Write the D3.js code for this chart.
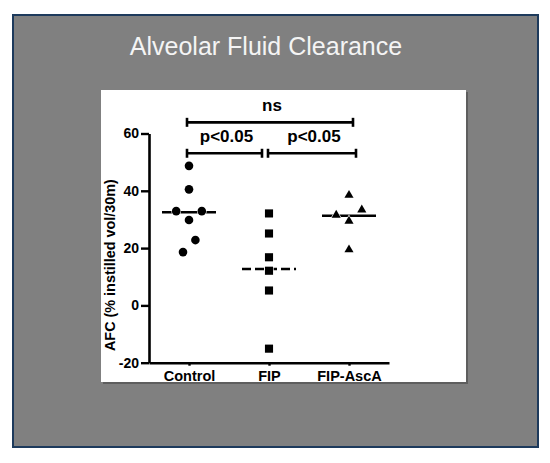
<!DOCTYPE html>
<html>
<head>
<meta charset="utf-8">
<script src="https://cdn.jsdelivr.net/npm/d3@7"></script>
<style>
  body { margin: 0; background: #fff; }
  svg { display: block; }
</style>
</head>
<body>
<div id="chart"></div>
<script>
// data
var groups = ["Control", "FIP", "FIP-AscA"];
var controlValues = [48.7, 40.5, 32.9, 32.9, 29.8, 22.8, 18.6];
var fipValues = [32.1, 25.1, 16.8, 12.1, 5.2, -15.1];
var ascaValues = [38.8, 33.7, 31.9, 29.8, 19.8];
var medians = [32.5, 12.7, 31.3];
var yTicks = [-20, 0, 20, 40, 60];
var sigBars = [
    { from: "Control", to: "FIP", y: 53.1, label: "p<0.05" },
    { from: "FIP", to: "FIP-AscA", y: 53.1, label: "p<0.05" },
    { from: "Control", to: "FIP-AscA", y: 63.9, label: "ns" }
];

var W = 550, H = 463;
var font = "'Liberation Sans', Arial, sans-serif";

var svg = d3.select("#chart")
    .append("svg")
    .attr("width", W)
    .attr("height", H);

// slide background
svg.append("rect")
    .attr("x", 13).attr("y", 15)
    .attr("width", 525).attr("height", 432)
    .attr("fill", "#808080")
    .attr("stroke", "#1d3a5c")
    .attr("stroke-width", 2);

svg.append("text")
    .attr("x", 266)
    .attr("y", 55)
    .attr("text-anchor", "middle")
    .style("font-family", font)
    .style("font-size", "25px")
    .style("fill", "#f4f4f4")
    .text("Alveolar Fluid Clearance");

// white picture panel with a little shadow
svg.append("rect")
    .attr("x", 103).attr("y", 92)
    .attr("width", 365).attr("height", 292)
    .attr("fill", "#5e5e5e");
svg.append("rect")
    .attr("x", 101).attr("y", 90)
    .attr("width", 365).attr("height", 292)
    .attr("fill", "#fff");

svg.append("clipPath").attr("id", "panel")
    .append("rect")
    .attr("x", 101).attr("y", 90)
    .attr("width", 365).attr("height", 292);

var g = svg.append("g").attr("clip-path", "url(#panel)");

var x = d3.scalePoint()
    .domain(groups)
    .range([149, 389])
    .padding(0.5);

var y = d3.scaleLinear()
    .domain([-20, 60])
    .range([362.7, 133.5]);

// axes
var yAxis = g.append("g")
    .attr("transform", "translate(" + x.range()[0] + ",0)")
    .call(d3.axisLeft(y).tickValues(yTicks).tickFormat(function (d) { return String(d); })
        .tickSize(8).tickSizeOuter(0).tickPadding(2));

var xAxis = g.append("g")
    .attr("transform", "translate(0," + y(-20) + ")")
    .call(d3.axisBottom(x).tickSize(3).tickSizeOuter(0).tickPadding(5));

[yAxis, xAxis].forEach(function (a) {
    a.select(".domain").attr("stroke", "#000").attr("stroke-width", 2.6);
    a.selectAll(".tick line").attr("stroke", "#000").attr("stroke-width", 2.4);
    a.selectAll("text")
        .style("font-family", font)
        .style("font-weight", "bold")
        .style("fill", "#000");
});
yAxis.selectAll("text").style("font-size", "14px");
xAxis.selectAll("text").style("font-size", "14.5px");

g.append("text")
    .attr("transform", "translate(115," + ((y(60) + y(-20)) / 2 + 17) + ") rotate(-90)")
    .attr("text-anchor", "middle")
    .style("font-family", font)
    .style("font-weight", "bold")
    .style("font-size", "14.4px")
    .text("AFC (% instilled vol/30m)");

// median lines
g.selectAll(".median")
    .data(medians)
    .enter()
    .append("line")
    .attr("class", "median")
    .attr("x1", function (d, i) { return x(groups[i]) - 27; })
    .attr("x2", function (d, i) { return x(groups[i]) + 27; })
    .attr("y1", function (d) { return y(d); })
    .attr("y2", function (d) { return y(d); })
    .attr("stroke", "#000")
    .attr("stroke-width", 2.6)
    .attr("stroke-dasharray", function (d, i) { return i == 1 ? "9,4" : null; });

// side-by-side nudges for points that would overlap (in symbol widths)
var nudges = [
    [0, 0, -1.6, 1.6, 0, 0.8, -0.75],
    [0, 0, 0, 0, 0, 0],
    [0, 1.6, -1.6, 0, 0]
];
var shapes = [d3.symbolCircle, d3.symbolSquare, d3.symbolTriangle];
var sizes = [58, 66, 36];
var series = [controlValues, fipValues, ascaValues];

series.forEach(function (vals, i) {
    var sym = d3.symbol().type(shapes[i]).size(sizes[i]);
    g.selectAll(".pt" + i)
        .data(vals)
        .enter()
        .append("path")
        .attr("class", "pt" + i)
        .attr("d", sym)
        .attr("transform", function (d, j) {
            var dy = i == 2 ? 1 : 0;
            return "translate(" + (x(groups[i]) + nudges[i][j] * 8) + "," + (y(d) + dy) + ")";
        })
        .attr("fill", "#000")
        .attr("stroke", "#fff")
        .attr("stroke-width", 1.2)
        .attr("paint-order", "stroke");
});

// significance brackets
var bar = g.selectAll(".sig")
    .data(sigBars)
    .enter()
    .append("g")
    .attr("class", "sig");

function barEnds(d) {
    var a = x(d.from) - 2, b = x(d.to) + 4;
    if (d.to == "FIP") b = x(d.to) - 7;
    if (d.from == "FIP") { a = x(d.from) - 1; b = x(d.to) + 7; }
    return [a, b];
}

bar.append("line")
    .attr("x1", function (d) { return barEnds(d)[0]; })
    .attr("x2", function (d) { return barEnds(d)[1]; })
    .attr("y1", function (d) { return y(d.y); })
    .attr("y2", function (d) { return y(d.y); })
    .attr("stroke", "#000")
    .attr("stroke-width", 2.6);

[0, 1].forEach(function (k) {
    bar.append("line")
        .attr("x1", function (d) { return barEnds(d)[k]; })
        .attr("x2", function (d) { return barEnds(d)[k]; })
        .attr("y1", function (d) { return y(d.y) - 4.5; })
        .attr("y2", function (d) { return y(d.y) + 4.5; })
        .attr("stroke", "#000")
        .attr("stroke-width", 2.6);
});

bar.append("text")
    .attr("x", function (d) { var e = barEnds(d); return (e[0] + e[1]) / 2 + 2; })
    .attr("y", function (d) { return y(d.y) - 11.5; })
    .attr("text-anchor", "middle")
    .style("font-family", font)
    .style("font-weight", "bold")
    .style("font-size", "17px")
    .text(function (d) { return d.label; });
</script>
</body>
</html>
